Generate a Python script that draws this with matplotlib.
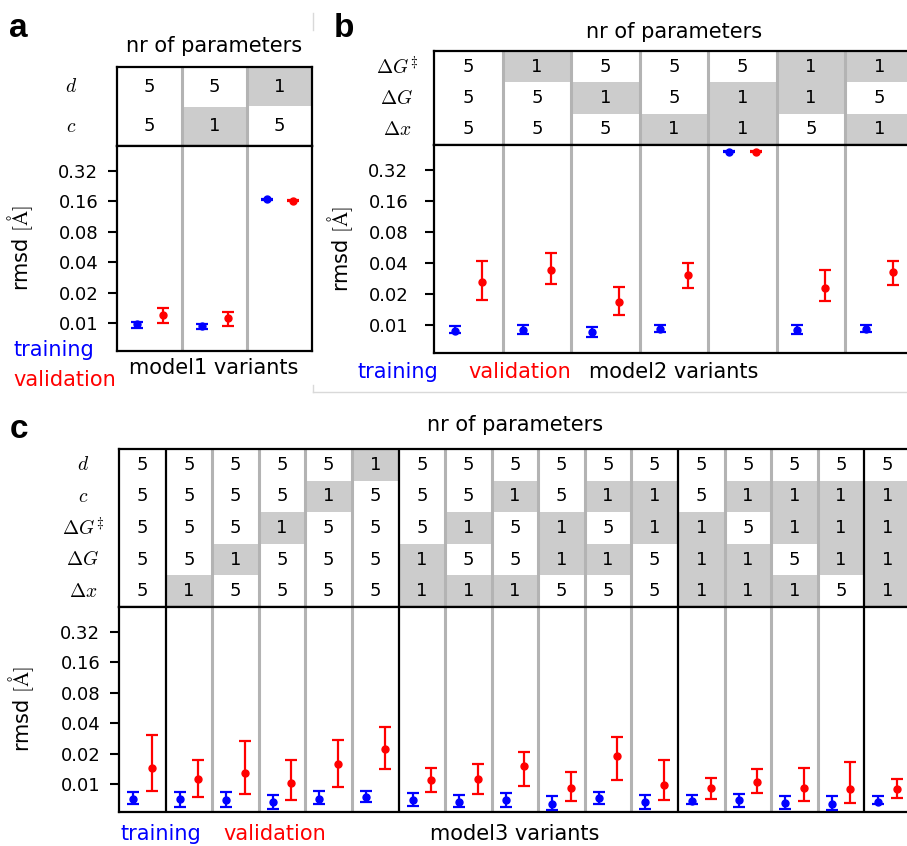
import numpy as np
import matplotlib
matplotlib.use('Agg')
import matplotlib.pyplot as plt
from matplotlib.patches import Rectangle
from matplotlib.lines import Line2D

plt.rcParams['font.family'] = ['DejaVu Sans']
plt.rcParams['mathtext.fontset'] = 'cm'

W, H = 907, 846

# ---------------- data ----------------
# panel a : model1 variants
a_rows = ['$d$', '$c$']
a_params = [[5, 5, 1],
            [5, 1, 5]]
a_train = [0.0097, 0.0093, 0.167]
a_train_lo = [0.0090, 0.0087, 0.165]
a_train_hi = [0.0103, 0.0099, 0.169]
a_val = [0.0120, 0.0111, 0.162]
a_val_lo = [0.0101, 0.0094, 0.160]
a_val_hi = [0.0140, 0.0130, 0.164]
a_groups = []

# panel b : model2 variants
b_rows = [r'$\Delta G^{\ddagger}$', r'$\Delta G$', r'$\Delta x$']
b_params = [[5, 1, 5, 5, 5, 1, 1],
            [5, 5, 1, 5, 1, 1, 5],
            [5, 5, 5, 1, 1, 5, 1]]
b_train = [0.00875, 0.0089, 0.0084, 0.0091, 0.48, 0.0089, 0.0091]
b_train_lo = [0.0083, 0.0082, 0.0076, 0.0084, 0.475, 0.0082, 0.0084]
b_train_hi = [0.0096, 0.0100, 0.0094, 0.0099, 0.485, 0.0100, 0.0099]
b_val = [0.0263, 0.0340, 0.0168, 0.0306, 0.48, 0.0229, 0.0327]
b_val_lo = [0.0175, 0.0246, 0.0125, 0.0227, 0.475, 0.0169, 0.0243]
b_val_hi = [0.0412, 0.0497, 0.0234, 0.0400, 0.485, 0.0344, 0.0412]
b_groups = []

# panel c : model3 variants
c_rows = ['$d$', '$c$', r'$\Delta G^{\ddagger}$', r'$\Delta G$', r'$\Delta x$']
c_params = [[5, 5, 5, 5, 5, 1, 5, 5, 5, 5, 5, 5, 5, 5, 5, 5, 5],
            [5, 5, 5, 5, 1, 5, 5, 5, 1, 5, 1, 1, 5, 1, 1, 1, 1],
            [5, 5, 5, 1, 5, 5, 5, 1, 5, 1, 5, 1, 1, 5, 1, 1, 1],
            [5, 5, 1, 5, 5, 5, 1, 5, 5, 1, 1, 5, 1, 1, 5, 1, 1],
            [5, 1, 5, 5, 5, 5, 1, 1, 1, 5, 5, 5, 1, 1, 1, 5, 1]]
c_train = [0.0072, 0.0072, 0.0070, 0.0067, 0.0072, 0.0075, 0.0070, 0.0067, 0.0070,
           0.0064, 0.0073, 0.0066, 0.0068, 0.0069, 0.0065, 0.0063, 0.0067]
c_train_lo = [0.0063, 0.0060, 0.0060, 0.0057, 0.0064, 0.0067, 0.0061, 0.0060, 0.0060,
              0.0056, 0.0063, 0.0057, 0.0063, 0.0060, 0.0057, 0.0056, 0.0063]
c_train_hi = [0.0083, 0.0083, 0.0083, 0.0078, 0.0085, 0.0086, 0.0082, 0.0078, 0.0082,
              0.0077, 0.0084, 0.0078, 0.0078, 0.0080, 0.0076, 0.0076, 0.0076]
c_val = [0.0143, 0.0111, 0.0129, 0.0103, 0.0159, 0.0223, 0.0110, 0.0112, 0.0152,
         0.0091, 0.0191, 0.0098, 0.0091, 0.0105, 0.0092, 0.0090, 0.0089]
c_val_lo = [0.0085, 0.0074, 0.0080, 0.0070, 0.0094, 0.0140, 0.0084, 0.0080, 0.0095,
            0.0068, 0.0110, 0.0069, 0.0072, 0.0081, 0.0068, 0.0065, 0.0073]
c_val_hi = [0.0302, 0.0173, 0.0268, 0.0173, 0.0274, 0.0368, 0.0143, 0.0159, 0.0209,
            0.0132, 0.0291, 0.0174, 0.0115, 0.0141, 0.0143, 0.0165, 0.0112]
c_groups = [1, 6, 12, 16]

yticks = [0.01, 0.02, 0.04, 0.08, 0.16, 0.32]
ytick_labels = ['0.01', '0.02', '0.04', '0.08', '0.16', '0.32']

fig = plt.figure(figsize=(W / 100, H / 100), dpi=100)


def px_axes(x0, y0, x1, y1):
    return fig.add_axes([x0 / W, 1 - y1 / H, (x1 - x0) / W, (y1 - y0) / H])


def ftext(x, y, s, **kw):
    fig.text(x / W, 1 - y / H, s, **kw)


def draw_panel(x0, x1, y_tab, y_mid, y_bot, rows, params, groups, lab_x, pad,
               tr, tr_lo, tr_hi, va, va_lo, va_hi):
    n = len(params[0])
    nr = len(rows)
    tab = px_axes(x0, y_tab, x1, y_mid)
    ax = px_axes(x0, y_mid, x1, y_bot)

    # table of parameter counts
    tab.set_xlim(0, n)
    tab.set_ylim(nr, 0)
    for r in range(nr):
        for i in range(n):
            if params[r][i] == 1:
                tab.add_patch(Rectangle((i, r), 1, 1, color='#cccccc', lw=0, zorder=1))
            tab.text(i + 0.5, r + 0.5, str(params[r][i]), ha='center', va='center',
                     fontsize=13, zorder=3)
        ftext(lab_x, y_tab + (r + 0.5) * (y_mid - y_tab) / nr, rows[r],
              ha='center', va='center', fontsize=14)
    tab.set_xticks([])
    tab.set_yticks([])

    # rmsd plot
    xs = np.arange(n)
    tr = np.array(tr); va = np.array(va)
    ax.errorbar(xs + 0.3, tr, yerr=[tr - np.array(tr_lo), np.array(tr_hi) - tr],
                fmt='o', color='#0000ff', ms=5, capsize=4, elinewidth=1.6,
                capthick=1.6, zorder=4)
    ax.errorbar(xs + 0.7, va, yerr=[va - np.array(va_lo), np.array(va_hi) - va],
                fmt='o', color='#ff0000', ms=5, capsize=4, elinewidth=1.6,
                capthick=1.6, zorder=4)
    ax.set_xlim(0, n)
    ax.set_yscale('log')
    ax.set_ylim(0.0053, 0.56)
    ax.set_yticks(yticks)
    ax.set_yticklabels(ytick_labels)
    ax.yaxis.set_minor_locator(matplotlib.ticker.NullLocator())
    ax.set_xticks([])
    ax.tick_params(axis='y', labelsize=13, length=6.5, width=1.5, pad=pad)
    ax.set_ylabel(r'rmsd $[\mathrm{\AA}]$', fontsize=15)

    for a in (tab, ax):
        for i in range(1, n):
            if i in groups:
                a.axvline(i, color='black', lw=1.6, zorder=2)
            else:
                a.axvline(i, color='#b3b3b3', lw=2.2, zorder=2)
        for sp in a.spines.values():
            sp.set_linewidth(1.6)
    return tab, ax


# ---------------- panel a ----------------
tab_a, ax_a = draw_panel(117, 312, 67, 146, 351, a_rows, a_params, a_groups, 71, 7,
                         a_train, a_train_lo, a_train_hi, a_val, a_val_lo, a_val_hi)
ax_a.yaxis.set_label_coords(-0.42, 0.5)
ftext(214, 46, 'nr of parameters', ha='center', va='center', fontsize=15)
ftext(214, 368, 'model1 variants', ha='center', va='center', fontsize=15)
ftext(13, 350, 'training', ha='left', va='center', fontsize=15, color='#0000ff')
ftext(13, 380, 'validation', ha='left', va='center', fontsize=15, color='#ff0000')
ftext(9, 37, 'a', fontsize=24, fontweight='bold', family='Liberation Sans')

# ---------------- panel b ----------------
tab_b, ax_b = draw_panel(434, 914, 51, 145, 353, b_rows, b_params, b_groups, 397, 12,
                         b_train, b_train_lo, b_train_hi, b_val, b_val_lo, b_val_hi)
ax_b.yaxis.set_label_coords(-0.165, 0.5)
ftext(674, 32, 'nr of parameters', ha='center', va='center', fontsize=15)
ftext(674, 372, 'model2 variants', ha='center', va='center', fontsize=15)
ftext(357, 372, 'training', ha='left', va='center', fontsize=15, color='#0000ff')
ftext(468, 372, 'validation', ha='left', va='center', fontsize=15, color='#ff0000')
ftext(334, 37, 'b', fontsize=24, fontweight='bold', family='Liberation Sans')

# ---------------- panel c ----------------
tab_c, ax_c = draw_panel(119, 911, 449, 607, 812, c_rows, c_params, c_groups, 83, 7,
                         c_train, c_train_lo, c_train_hi, c_val, c_val_lo, c_val_hi)
ax_c.yaxis.set_label_coords(-0.105, 0.5)
ftext(515, 425, 'nr of parameters', ha='center', va='center', fontsize=15)
ftext(515, 834, 'model3 variants', ha='center', va='center', fontsize=15)
ftext(120, 834, 'training', ha='left', va='center', fontsize=15, color='#0000ff')
ftext(223, 834, 'validation', ha='left', va='center', fontsize=15, color='#ff0000')
ftext(10, 438, 'c', fontsize=24, fontweight='bold', family='Liberation Sans')

# faint frame of panel b
for xs_, ys_ in [([313, 313], [13, 30]), ([313, 313], [385, 392]), ([313, 907], [392, 392])]:
    fig.add_artist(Line2D([x / W for x in xs_], [1 - y / H for y in ys_],
                          color='#d9d9d9', lw=1))

fig.savefig('out.png', dpi=100)
